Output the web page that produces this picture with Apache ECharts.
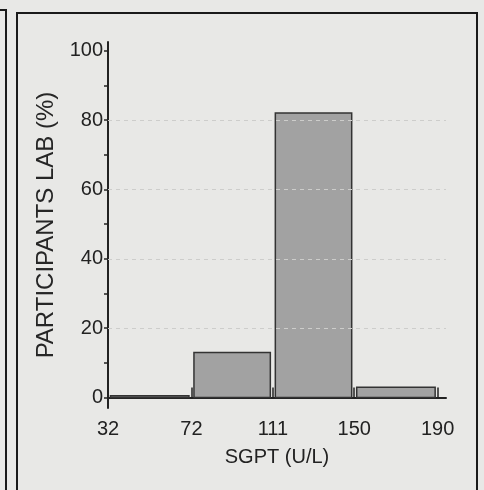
<!DOCTYPE html>
<html>
<head>
<meta charset="utf-8">
<script src="https://cdn.jsdelivr.net/npm/echarts@6/dist/echarts.min.js"></script>
<style>
html,body{margin:0;padding:0;background:#e8e8e6;}
#c{width:484px;height:490px;}
</style>
</head>
<body>
<div id="c"></div>
<script>
// Histogram bins (SGPT U/L) and percentage of participant labs
const binEdges = [32, 72, 111, 150, 190];
const percentages = [0.5, 13, 82, 3];
const yTickLabels = [0, 20, 40, 60, 80, 100];
const yMinorTicks = [0, 10, 20, 30, 40, 50, 60, 70, 80, 90, 100];
const gridValues = [20, 40, 60, 80];

const barData = percentages.map((v, i) => [binEdges[i], binEdges[i + 1], v]);
const sans = "'Liberation Sans', Arial, sans-serif";

const chart = echarts.init(document.getElementById('c'), null, {renderer: 'canvas'});
chart.setOption({
  backgroundColor: '#e8e8e6',
  animation: false,
  grid: {left: 108, right: 38, top: 42, bottom: 82, containLabel: false},
  xAxis: {
    type: 'value', min: 32, max: 194,
    axisLine: {show: true, lineStyle: {color: '#222', width: 2}},
    axisTick: {show: true, inside: true, length: 10, customValues: binEdges.slice(1), lineStyle: {color: '#222', width: 1.5}},
    axisLabel: {customValues: binEdges, margin: 11, fontFamily: sans, fontSize: 20, color: '#222'},
    splitLine: {show: false},
    name: 'SGPT (U/L)', nameLocation: 'middle', nameGap: 39,
    nameTextStyle: {fontFamily: sans, fontSize: 20, color: '#222'}
  },
  yAxis: {
    type: 'value', min: -3, max: 102.5,
    axisLine: {show: true, lineStyle: {color: '#222', width: 2}},
    axisTick: {show: true, length: 4, customValues: yMinorTicks, lineStyle: {color: '#222', width: 1.5}},
    axisLabel: {customValues: yTickLabels, margin: 5, fontFamily: sans, fontSize: 20, color: '#222'},
    splitLine: {show: false},
    name: 'PARTICIPANTS LAB (%)', nameLocation: 'middle', nameGap: 47,
    nameTextStyle: {fontFamily: sans, fontSize: 24, color: '#262626'}
  },
  series: [{
    type: 'custom',
    data: barData,
    encode: {x: [0, 1], y: 2},
    renderItem: function (params, api) {
      const p0 = api.coord([api.value(0), api.value(2)]);
      const p1 = api.coord([api.value(1), 0]);
      const inset = 2.5;
      return {
        type: 'rect',
        shape: {x: p0[0] + inset, y: p0[1], width: p1[0] - p0[0] - 2 * inset, height: p1[1] - p0[1]},
        style: {fill: '#a2a2a2', stroke: '#333', lineWidth: 1.5}
      };
    },
    markLine: {
      silent: true, symbol: 'none', label: {show: false},
      lineStyle: {color: '#cdcdcb', type: [4, 4], width: 1},
      data: gridValues.map(v => ({yAxis: v}))
    },
    z: 3
  }],
  graphic: [
    {type: 'rect', shape: {x: 17, y: 13, width: 460, height: 490}, style: {fill: null, stroke: '#1a1a1a', lineWidth: 2}, z: 10},
    {type: 'polyline', shape: {points: [[0, 10], [6, 10], [6, 495]]}, style: {fill: null, stroke: '#1a1a1a', lineWidth: 2}, z: 10}
  ]
});
</script>
</body>
</html>
